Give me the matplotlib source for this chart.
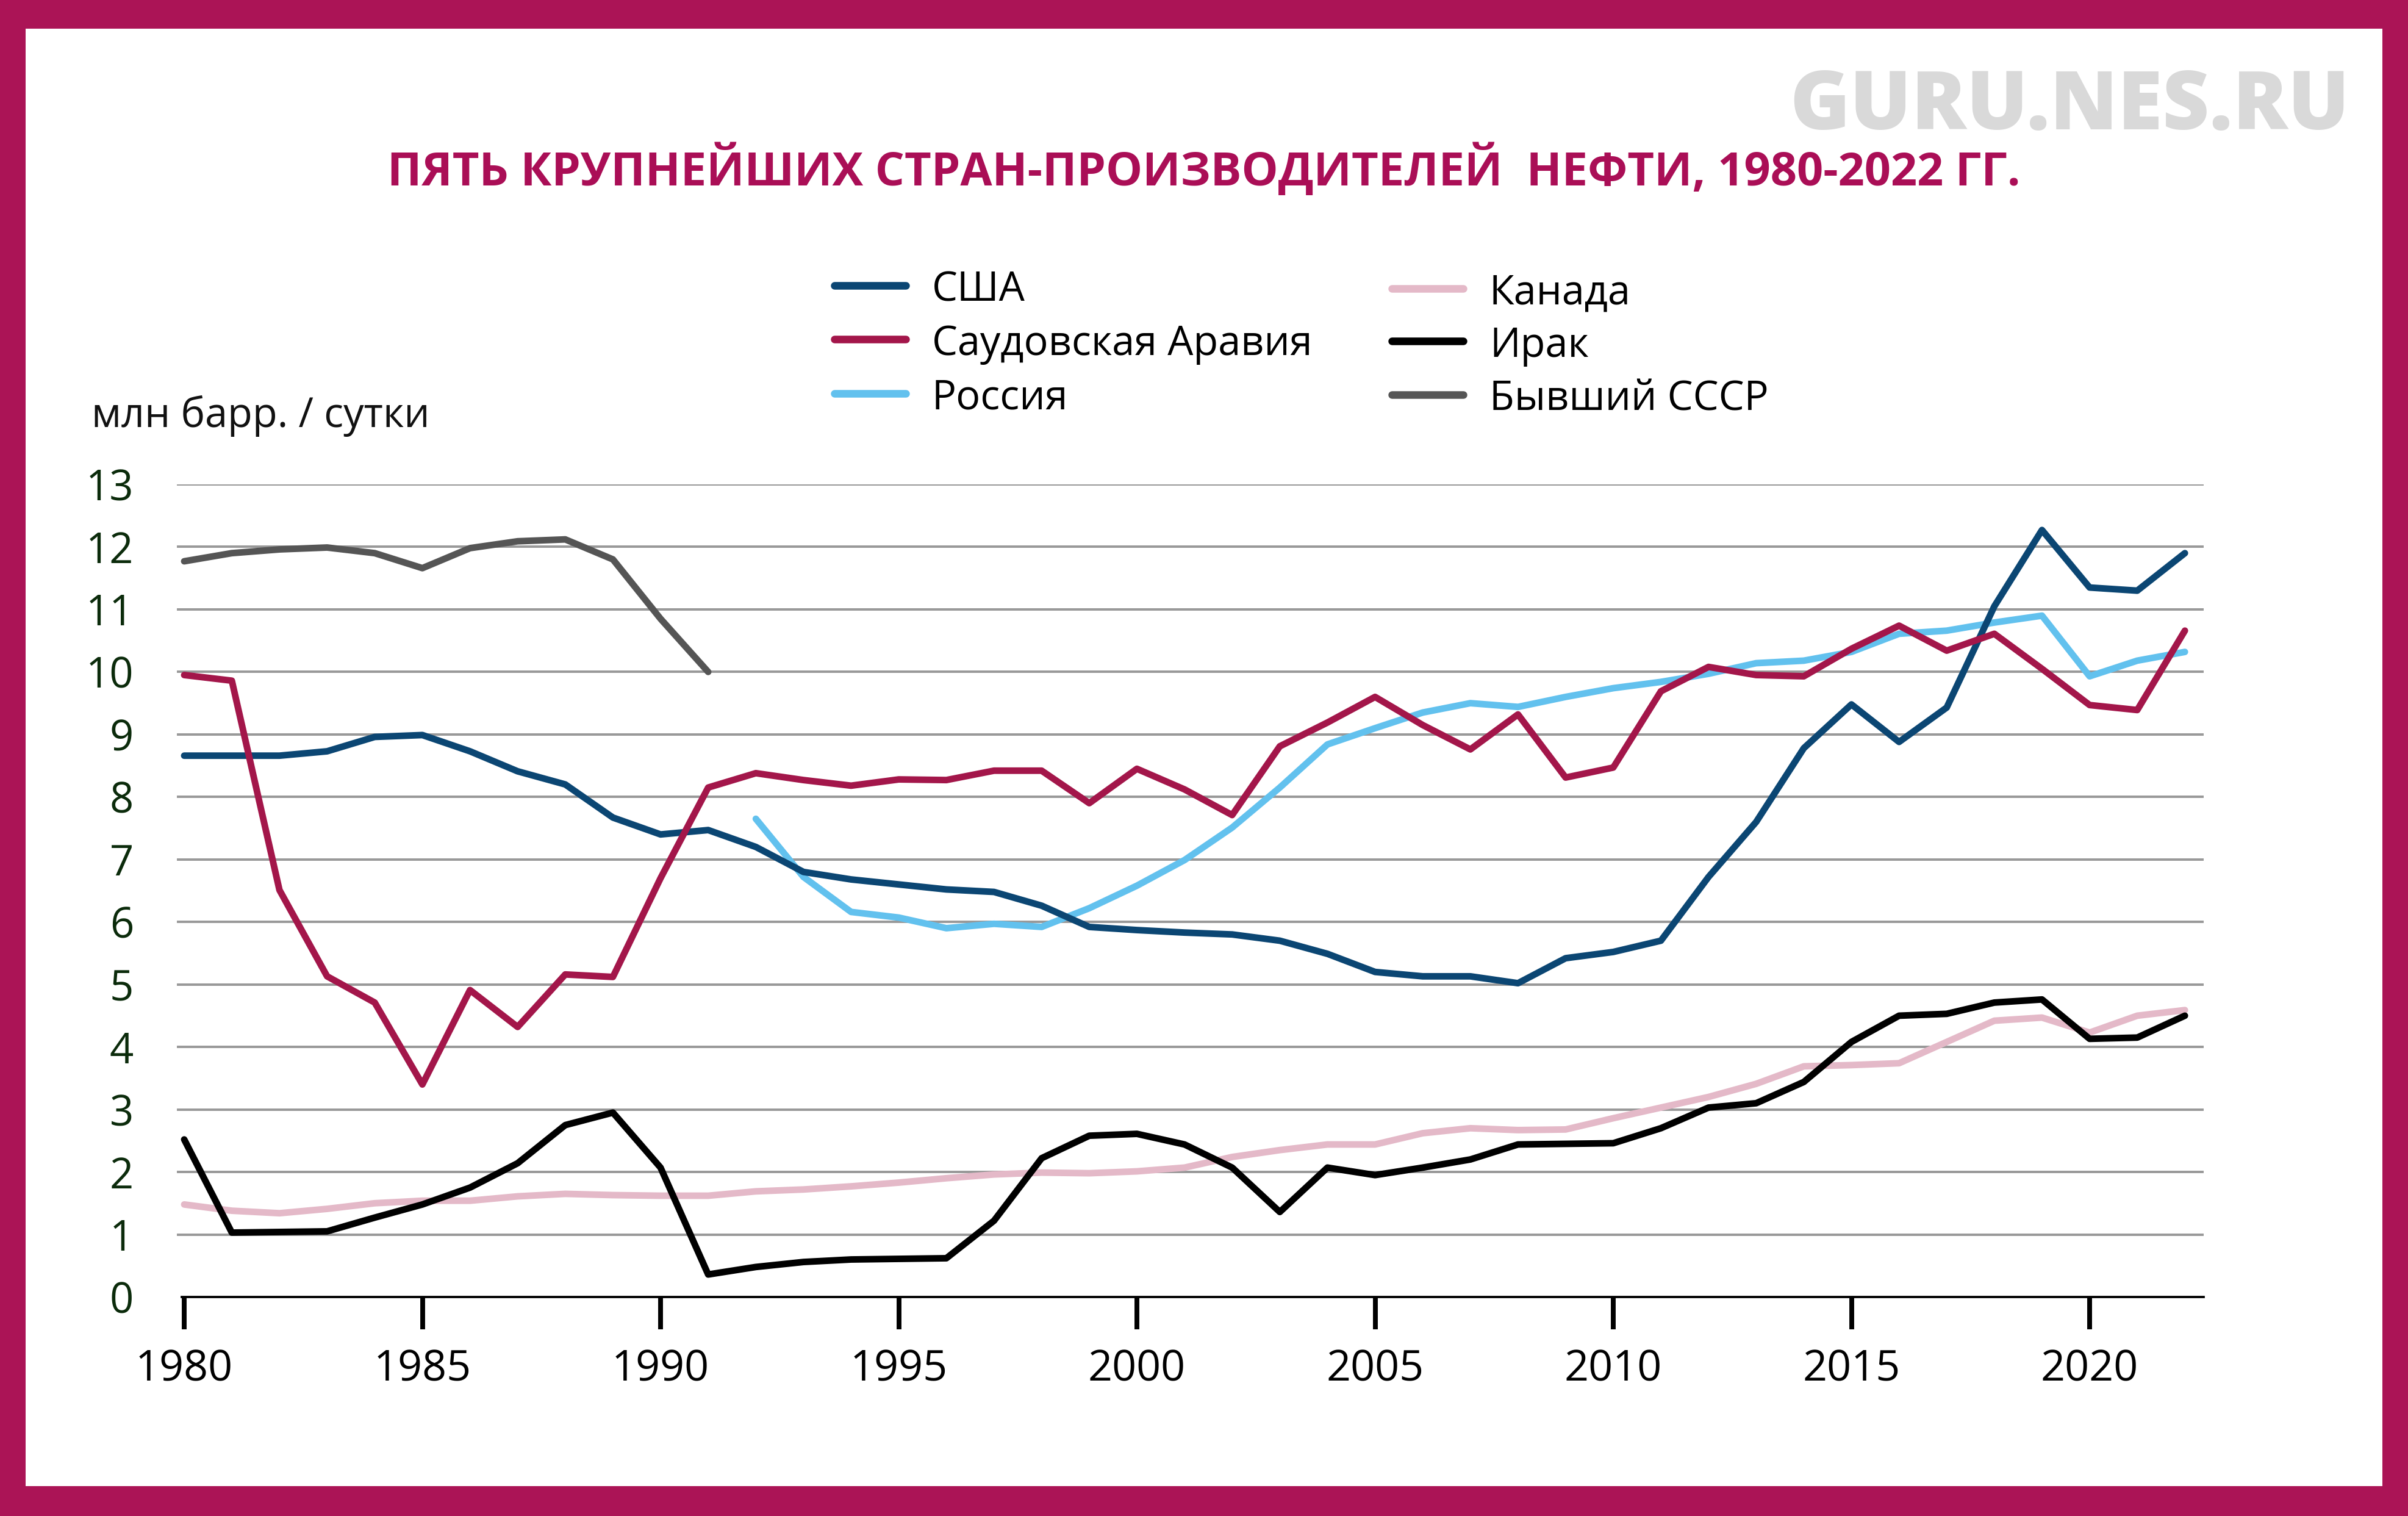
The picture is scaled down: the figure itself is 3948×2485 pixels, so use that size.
import matplotlib
matplotlib.use('Agg')
import matplotlib.pyplot as plt
from matplotlib.patches import Rectangle
from matplotlib.lines import Line2D

# данные (млн барр./сутки)
years = list(range(1980, 2023))
years_ussr = list(range(1980, 1992))
years_russia = list(range(1992, 2023))

usa = [8.66, 8.66, 8.66, 8.73, 8.96, 8.99, 8.73, 8.41, 8.2, 7.67, 7.4, 7.47,
       7.2, 6.8, 6.68, 6.6, 6.52, 6.48, 6.26, 5.92, 5.87, 5.83,
       5.8, 5.7, 5.49, 5.2, 5.13, 5.13, 5.02, 5.42, 5.52, 5.7,
       6.72, 7.6, 8.78, 9.48, 8.88, 9.43, 11.05, 12.27, 11.35, 11.3, 11.9]
saudi = [9.95, 9.86, 6.51, 5.13, 4.71, 3.4, 4.91, 4.32, 5.16, 5.12, 6.7, 8.15,
         8.38, 8.27, 8.18, 8.28, 8.27, 8.42, 8.42, 7.9, 8.45, 8.12,
         7.71, 8.81, 9.19, 9.6, 9.15, 8.76, 9.32, 8.31, 8.47, 9.69,
         10.08, 9.95, 9.93, 10.37, 10.74, 10.34, 10.61, 10.05, 9.47, 9.39, 10.66]
russia = [7.65, 6.72, 6.16, 6.07, 5.9, 5.97, 5.92, 6.22, 6.58, 6.99,
          7.51, 8.15, 8.84, 9.1, 9.35, 9.5, 9.44, 9.6, 9.74, 9.84,
          9.97, 10.14, 10.18, 10.32, 10.61, 10.66, 10.79, 10.9, 9.93, 10.18, 10.32]
canada = [1.48, 1.38, 1.34, 1.41, 1.5, 1.54, 1.54, 1.61, 1.65, 1.63, 1.62, 1.62,
          1.69, 1.72, 1.77, 1.83, 1.9, 1.96, 1.99, 1.98, 2.01, 2.07,
          2.24, 2.35, 2.44, 2.44, 2.62, 2.7, 2.67, 2.68, 2.86, 3.03,
          3.2, 3.41, 3.69, 3.71, 3.74, 4.08, 4.42, 4.47, 4.23, 4.5, 4.59]
iraq = [2.52, 1.03, 1.04, 1.05, 1.27, 1.48, 1.75, 2.14, 2.75, 2.95, 2.07, 0.36,
        0.48, 0.56, 0.6, 0.61, 0.62, 1.22, 2.22, 2.58, 2.61, 2.44,
        2.07, 1.36, 2.07, 1.95, 2.07, 2.2, 2.44, 2.45, 2.46, 2.7,
        3.03, 3.1, 3.44, 4.08, 4.5, 4.53, 4.71, 4.76, 4.13, 4.15, 4.5]
ussr = [11.77, 11.9, 11.96, 11.99, 11.9, 11.66, 11.98, 12.09, 12.12, 11.8, 10.85, 10.0]

names = ['США', 'Саудовская Аравия', 'Россия', 'Канада', 'Ирак', 'Бывший СССР']
colors = ['#0B4673', '#A3164A', '#62C1EE', '#E4B9C8', '#000000', '#555555']

W, H = 3948, 2485
DPI = 300
FRAME = '#AB1456'

plt.rcParams['font.family'] = ['Open Sans', 'DejaVu Sans']

fig = plt.figure(figsize=(W / DPI, H / DPI), dpi=DPI)


def fx(px):
    return px / W


def fy(py):
    return 1 - py / H


# рамка
fig.patches.append(Rectangle((0, 0), 1, 1, transform=fig.transFigure,
                             facecolor='white', edgecolor='none', zorder=-10))
for (x0, y0, x1, y1) in [(0, 0, W, 47), (0, 2436, W, H), (0, 0, 42, H), (3906, 0, W, H)]:
    fig.patches.append(Rectangle((fx(x0), fy(y1)), fx(x1 - x0), (y1 - y0) / H,
                                 transform=fig.transFigure, facecolor=FRAME,
                                 edgecolor='none', zorder=10))

# оси: 1980 -> 302px, 78.1px/год; 0 -> 2126px, 13 -> 794px
ax_left, ax_right = 290, 3613
ax_top, ax_bot = 794, 2126
ax = fig.add_axes([fx(ax_left), fy(ax_bot), fx(ax_right - ax_left), (ax_bot - ax_top) / H])
ax.set_xlim(1980 - 12 / 78.1, 1980 + (ax_right - 302) / 78.1)
ax.set_ylim(0, 13)

series = [(years, usa), (years, saudi), (years_russia, russia),
          (years, canada), (years, iraq), (years_ussr, ussr)]
zorders = [4, 5, 3, 2, 6, 4]
for (xs, ys), c, z in zip(series, colors, zorders):
    ax.plot(xs, ys, color=c, lw=2.6, solid_capstyle='round',
            solid_joinstyle='round', zorder=z, clip_on=False)

for v in range(1, 14):
    ax.axhline(v, color='#999999', lw=0.95, zorder=1)

for s in ['top', 'right', 'left']:
    ax.spines[s].set_visible(False)
ax.spines['bottom'].set_color('black')
ax.spines['bottom'].set_linewidth(0.9)
ax.spines['bottom'].set_bounds(1980 - 0.05, ax.get_xlim()[1])

ax.set_xticks(list(range(1980, 2021, 5)))
ax.set_xticklabels([str(y) for y in range(1980, 2021, 5)])
ax.tick_params(axis='x', direction='out', length=12.7, width=1.9, color='black',
               labelsize=16.8, labelcolor='black', pad=7.5)
ax.set_yticks(list(range(0, 14)))
ax.set_yticklabels([str(v) for v in range(0, 14)])
ax.tick_params(axis='y', length=0, labelsize=16.5, labelcolor='#0B2B0B', pad=17)

# заголовок и подписи
fig.text(0.5, fy(304), 'ПЯТЬ КРУПНЕЙШИХ СТРАН-ПРОИЗВОДИТЕЛЕЙ  НЕФТИ, 1980-2022 ГГ.',
         ha='center', va='baseline', fontsize=18.2, fontweight='bold', color='#AA0E56')
fig.text(fx(3852), fy(212), 'GURU.NES.RU', ha='right', va='baseline',
         fontsize=32, fontweight=800, color='#D9D9D9')
fig.text(fx(150), fy(700), 'млн барр. / сутки', ha='left', va='baseline',
         fontsize=16, color='#111111')

# легенда
leg_pos = [(1360, 468), (1360, 556), (1360, 645), (2274, 473), (2274, 559), (2274, 647)]
for (x, y), name, c in zip(leg_pos, names, colors):
    fig.add_artist(Line2D([fx(x + 8), fx(x + 125)], [fy(y), fy(y)], transform=fig.transFigure,
                          color=c, lw=3.0, solid_capstyle='round'))
    fig.text(fx(x + 168), fy(y), name, ha='left', va='center_baseline',
             fontsize=16, color='black')

fig.savefig('out.png', dpi=DPI)
